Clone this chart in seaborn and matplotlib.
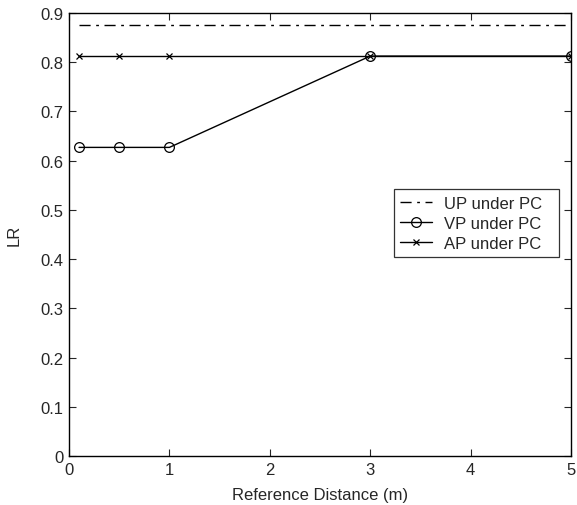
import matplotlib
matplotlib.use("Agg")
import matplotlib.pyplot as plt
import seaborn as sns
import pandas as pd

distance = [0.1, 0.5, 1, 3, 5]
up_lr = [0.875, 0.875, 0.875, 0.875, 0.875]
vp_lr = [0.627, 0.627, 0.627, 0.8125, 0.8125]
ap_lr = [0.8125, 0.8125, 0.8125, 0.8125, 0.8125]
series_names = ["UP under PC", "VP under PC", "AP under PC"]

sns.set_style("ticks")
plt.rcParams['font.family'] = ['Liberation Sans', 'DejaVu Sans']

df = pd.DataFrame({
    "distance": distance * 3,
    "LR": up_lr + vp_lr + ap_lr,
    "series": [series_names[0]] * 5 + [series_names[1]] * 5 + [series_names[2]] * 5,
})

fig = plt.figure(figsize=(5.77, 5.06), dpi=100)
ax = fig.add_axes([0.1196, 0.0968, 0.8700, 0.8755])

styles = {
    series_names[0]: dict(linestyle=(0, (8, 4, 2, 4)), marker=None),
    series_names[1]: dict(linestyle='-', marker='o'),
    series_names[2]: dict(linestyle='-', marker='x'),
}
for name in series_names:
    sub = df[df["series"] == name]
    st = styles[name]
    sns.lineplot(data=sub, x="distance", y="LR", ax=ax, color='black',
                 linewidth=1.0, linestyle=st['linestyle'], marker=st['marker'],
                 markersize=7 if st['marker'] == 'o' else 5,
                 markerfacecolor='none', markeredgecolor='black', markeredgewidth=0.9,
                 label=name, legend=False)

ax.set_xlim(0, 5)
ax.set_ylim(0, 0.9)
ax.set_xticks([0, 1, 2, 3, 4, 5])
ax.set_yticks([0, 0.1, 0.2, 0.3, 0.4, 0.5, 0.6, 0.7, 0.8, 0.9])
ax.set_yticklabels(["0", "0.1", "0.2", "0.3", "0.4", "0.5", "0.6", "0.7", "0.8", "0.9"])
ax.tick_params(direction='in', top=True, right=True, length=5, width=0.8,
               labelsize=12, pad=4)
for sp in ax.spines.values():
    sp.set_visible(True)
    sp.set_linewidth(1.0)
    sp.set_color('black')
ax.set_xlabel("Reference Distance (m)", fontsize=12)
ax.set_ylabel("LR", fontsize=12)
ax.xaxis.set_label_coords(0.5, -0.070)
ax.yaxis.set_label_coords(-0.094, 0.5)

leg = ax.legend(loc='upper left', bbox_to_anchor=(0.647, 0.603, 0.329, 0),
                mode='expand', borderaxespad=0,
                frameon=True, fancybox=False, edgecolor='black', fontsize=12,
                handlelength=1.9, handletextpad=0.7, borderpad=0.4,
                labelspacing=0.3)
leg.get_frame().set_linewidth(0.9)

fig.savefig("out.png", dpi=100)
